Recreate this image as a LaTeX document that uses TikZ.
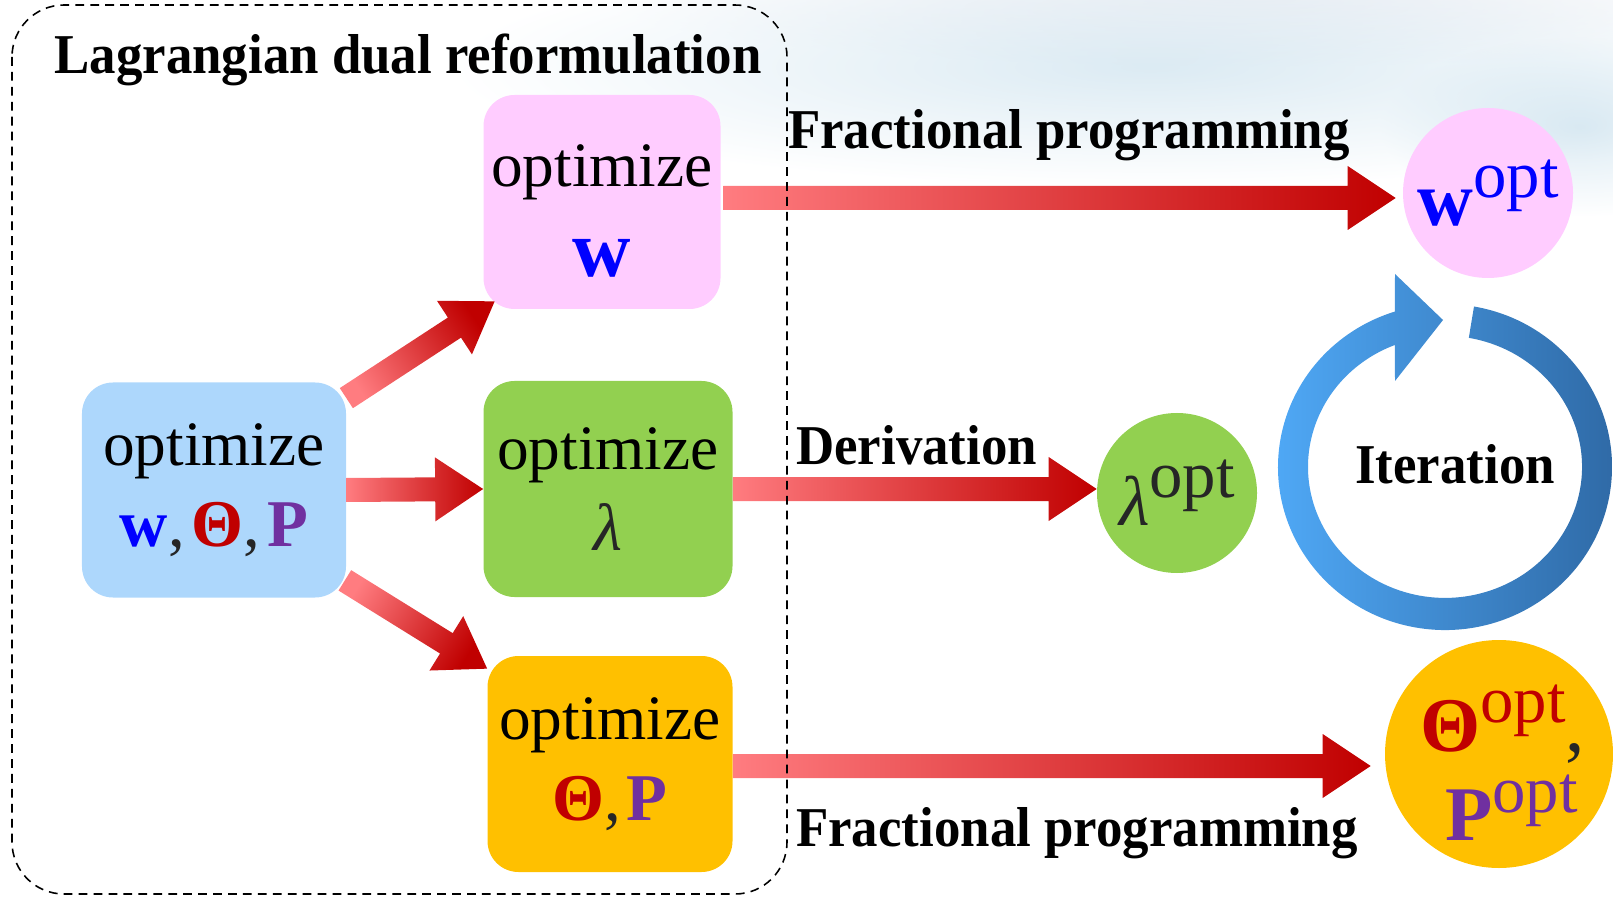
\documentclass[tikz,border=0pt]{standalone}
\usepackage{fontspec}
\setmainfont{Liberation Serif}
\newfontfamily\lblfont[FakeStretch=0.94]{Liberation Serif}
\usetikzlibrary{calc, fadings}

\definecolor{pinkbox}{HTML}{FFCCFF}
\definecolor{greenbox}{HTML}{92D050}
\definecolor{orangebox}{HTML}{FFC000}
\definecolor{bluebox}{HTML}{ADD7FC}
\definecolor{wblue}{HTML}{0000FF}
\definecolor{thred}{HTML}{C00000}
\definecolor{ppurple}{HTML}{7030A0}
\definecolor{arrlight}{HTML}{FF7C80}
\definecolor{arrdark}{HTML}{C00000}
\definecolor{iterlight}{HTML}{50AAF8}
\definecolor{iterdark}{HTML}{2E68A4}
\definecolor{haze}{HTML}{C4DDEB}
\definecolor{hazegray}{HTML}{ECECF2}
\definecolor{inkgray}{HTML}{262626}

% bold symbols
\newcommand{\bw}{\textcolor{wblue}{\bfseries w}}
\newcommand{\bth}{\textcolor{thred}{\bfseries Θ}}
\newcommand{\bp}{\textcolor{ppurple}{\bfseries P}}
\newcommand{\sopt}[1]{\raisebox{16pt}{\fontsize{38}{38}\selectfont\color{#1}opt}}

% fat gradient arrow: from, to, shading angle
\newcommand{\fatarrow}[3]{%
  \coordinate (fa-back) at ($(#2)!9.6mm!(#1)$);
  \shade[left color=arrlight, right color=arrdark, shading angle=#3]
    ($(#1)!2.4mm!90:(#2)$) -- ($(fa-back)!2.4mm!-90:(#1)$)
    -- ($(fa-back)!6.4mm!-90:(#1)$) -- (#2)
    -- ($(fa-back)!6.4mm!90:(#1)$) -- ($(fa-back)!2.4mm!90:(#1)$)
    -- ($(#1)!2.4mm!-90:(#2)$) -- cycle;
}

\tikzfading[name=hazefade, inner color=transparent!40, outer color=transparent!100]

\begin{document}
\begin{tikzpicture}[
  x=0.2mm, y=0.2mm,
  optbox/.style={rounded corners=6.2mm, inner sep=0pt, align=center,
    font=\fontsize{36}{46}\selectfont},
  optcircle/.style={circle, inner sep=0pt, align=center},
  lbl/.style={font=\lblfont\fontsize{32}{32}\selectfont\bfseries},
]
\useasboundingbox (0,0) rectangle (1613,897);

% Background haze
\fill[hazegray, path fading=hazefade] (1250,900) ellipse (650 and 70);
\fill[haze, path fading=hazefade] (1150,830) ellipse (700 and 120);
\fill[haze, path fading=hazefade] (1580,770) ellipse (200 and 90);

% Boxes
\node[optbox, fill=bluebox, minimum width=52.8mm, minimum height=43mm] (optall) at (214,407)
  {optimize\\{\fontsize{38}{46}\selectfont\bw\textcolor{inkgray}{,}\hspace{4pt}\bth\textcolor{inkgray}{,}\hspace{4pt}\bp}};
\node[optbox, fill=pinkbox, minimum width=47.4mm, minimum height=42.8mm] (optw) at (602,695)
  {\rule{0pt}{34pt}optimize\\[5pt]{\fontsize{46}{46}\selectfont\bw}};
\node[optbox, fill=greenbox, minimum width=49.8mm, minimum height=43.2mm] (optl) at (608,408)
  {optimize\\{\fontsize{38}{46}\selectfont\itshape\color{inkgray}λ}};
\node[optbox, fill=orangebox, minimum width=49mm, minimum height=43.2mm] (optp) at (610,133)
  {optimize\\{\fontsize{38}{46}\selectfont\bth\textcolor{inkgray}{,}\hspace{3pt}\bp}};

% Results
\node[optcircle, fill=pinkbox, minimum size=34mm] (wopt) at (1488,704)
  {\fontsize{44}{44}\selectfont\bw\sopt{wblue}};
\node[optcircle, fill=greenbox, minimum size=32mm] (lopt) at (1177,404)
  {\fontsize{40}{40}\selectfont\color{inkgray}\itshape λ\upshape\sopt{inkgray}};
\node[optcircle, fill=orangebox, minimum size=45.6mm] (popt) at (1499,143) {};
\node[align=center, inner sep=0pt, font=\fontsize{44}{51}\selectfont] (popttext)
  at ($(popt.center)+(0,-9)$)
  {\hspace{4pt}\bth\sopt{thred}\textcolor{inkgray}{,}\\
   \hspace{14pt}\bp\sopt{ppurple}};

% Arrows inside the dual box
\coordinate (d1s) at ($(optall.north east)+(0,-3.2mm)$);
\coordinate (d1e) at ($(optw.south west)+(2.3mm,1.6mm)$);
\coordinate (d3s) at ($(optall.south east)+(-0.3mm,3.5mm)$);
\coordinate (d3e) at ($(optp.north west)+(0,-2.6mm)$);
\fatarrow{d1s}{d1e}{123}
\fatarrow{optall.east}{optl.west}{90}
\fatarrow{d3s}{d3e}{58}

% Arrows to the results
\coordinate (r1s) at ($(optw.east)+(0.5mm,0.8mm)$);
\coordinate (r1e) at ($(wopt.west |- r1s)+(-1.4mm,0)$);
\coordinate (r3s) at ($(optp.east)+(0,-0.4mm)$);
\coordinate (r3e) at ($(popt.west |- r3s)+(-2.8mm,0)$);
\fatarrow{r1s}{r1e}{90}
\fatarrow{optl.east}{lopt.west |- optl.east}{90}
\fatarrow{r3s}{r3e}{90}

% Iteration loop
\shade[left color=iterlight, right color=iterdark]
  (1474,590.5) arc[start angle=80, end angle=-252.5, x radius=167, y radius=163]
  -- (1395,623) -- (1443,577) -- (1395,516)
  -- (1394.8,552) arc[start angle=111.5, end angle=440, x radius=137, y radius=131]
  -- cycle;

% Dual reformulation frame
\draw[line width=0.9pt, dash pattern=on 5pt off 3.5pt, rounded corners=10.4mm]
  (12,892) rectangle (787,3);

% Labels
\node[lbl, anchor=base] (title) at (408,823) {Lagrangian dual reformulation};
\node[lbl, anchor=base west] (fp1) at (782,748) {Fractional programming};
\node[lbl, anchor=base west] (deriv) at (790,432) {Derivation};
\node[lbl, anchor=base west] (fp2) at (790,51) {Fractional programming};
\node[lbl, anchor=base] (iter) at (1455,414) {Iteration};

\end{tikzpicture}
\end{document}
